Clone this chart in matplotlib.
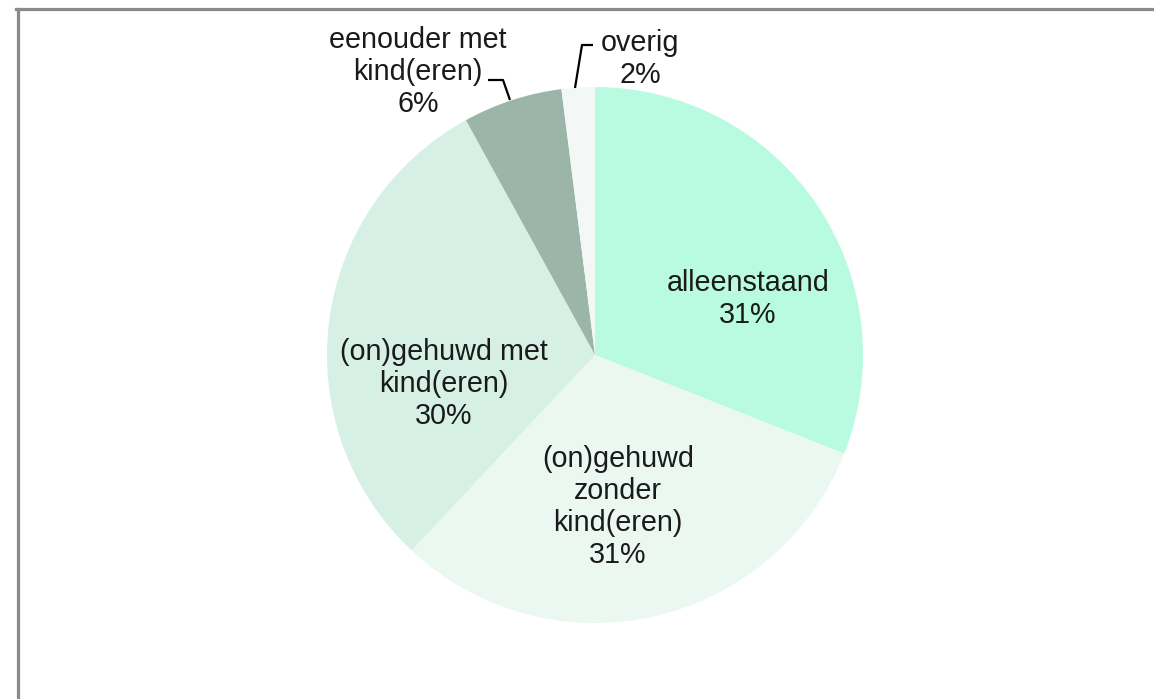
import matplotlib.pyplot as plt
from matplotlib.lines import Line2D

plt.rcParams["font.family"] = ["Liberation Sans", "DejaVu Sans"]

labels = ["alleenstaand", "(on)gehuwd\nzonder\nkind(eren)", "(on)gehuwd met\nkind(eren)",
          "eenouder met\nkind(eren)", "overig"]
values = [31, 31, 30, 6, 2]
colors = ["#b9fbe1", "#ebf7f1", "#d6f0e5", "#9bb6a9", "#f3f8f6"]

# label anchor points (pixel space, y up) and leader lines for the small slices
label_pos = [(748, 400), (618, 192), (444, 315), (418, 627), (640, 640)]
leaders = {3: [(488, 619), (503, 619), (510, 599)],
           4: [(593, 654), (582, 654), (575, 611)]}

W, H = 1154, 699
fig = plt.figure(figsize=(W / 100, H / 100), dpi=100)
ax = fig.add_axes([0, 0, 1, 1])

ax.pie(values, colors=colors, startangle=90, counterclock=False,
       center=(595, H - 355), radius=268, frame=True,
       wedgeprops={"linewidth": 0})
ax.set_xlim(0, W)
ax.set_ylim(0, H)
ax.set_aspect("equal")
ax.axis("off")

for i, (lab, v) in enumerate(zip(labels, values)):
    x, y = label_pos[i]
    ax.text(x, y, f"{lab}\n{v}%", ha="center", va="center", fontsize=20.7,
            color="#1a1a1a", linespacing=1.17)
    if i in leaders:
        xs, ys = zip(*leaders[i])
        ax.plot(xs, ys, color="black", lw=1.6, solid_capstyle="butt")

# frame lines (left and top only visible)
fig.add_artist(Line2D([17.5 / W, 17.5 / W], [0, 1 - 8.5 / H], color="#8a8a8a", lw=2.3,
                      transform=fig.transFigure))
fig.add_artist(Line2D([16 / W, 1], [1 - 8.5 / H, 1 - 8.5 / H], color="#8a8a8a", lw=2.3,
                      transform=fig.transFigure))

fig.savefig("out.png", dpi=100)
